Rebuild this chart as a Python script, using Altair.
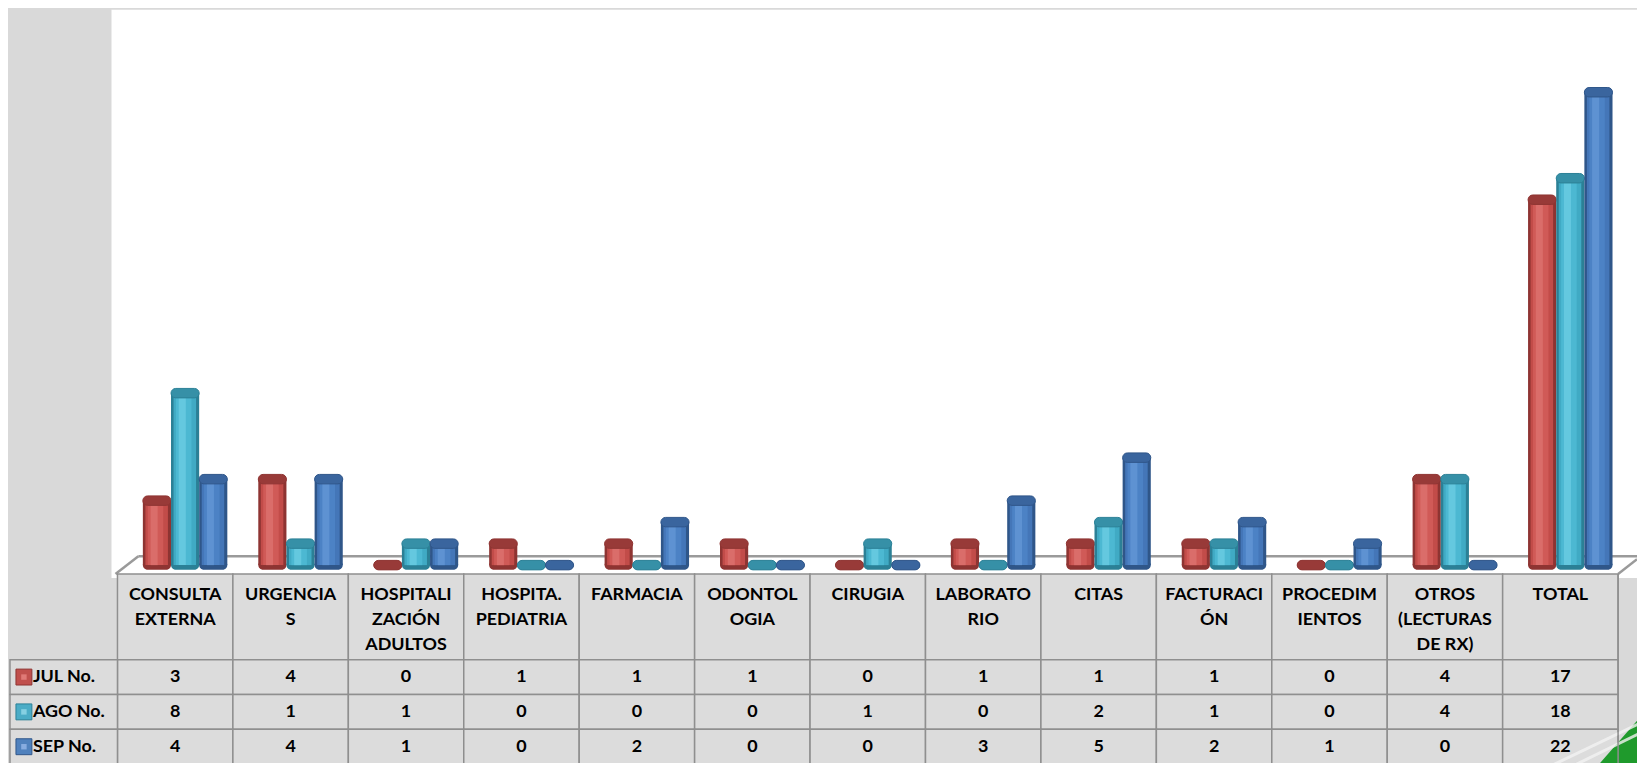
import altair as alt
import pandas as pd

categories = ["CONSULTA EXTERNA", "URGENCIAS", "HOSPITALIZACIÓN ADULTOS", "HOSPITA. PEDIATRIA",
              "FARMACIA", "ODONTOLOGIA", "CIRUGIA", "LABORATORIO", "CITAS", "FACTURACIÓN",
              "PROCEDIMIENTOS", "OTROS (LECTURAS DE RX)", "TOTAL"]
header_labels = ["CONSULTA\nEXTERNA", "URGENCIA\nS", "HOSPITALI\nZACIÓN\nADULTOS", "HOSPITA.\nPEDIATRIA",
                 "FARMACIA", "ODONTOL\nOGIA", "CIRUGIA", "LABORATO\nRIO", "CITAS", "FACTURACI\nÓN",
                 "PROCEDIM\nIENTOS", "OTROS\n(LECTURAS\nDE RX)", "TOTAL"]
series = ["JUL No.", "AGO No.", "SEP No."]
series_keys = ["jul", "ago", "sep"]
jul = [3, 4, 0, 1, 1, 1, 0, 1, 1, 1, 0, 4, 17]
ago = [8, 1, 1, 0, 0, 0, 1, 0, 2, 1, 0, 4, 18]
sep = [4, 4, 1, 0, 2, 0, 0, 3, 5, 2, 1, 0, 22]

values = {"jul": jul, "ago": ago, "sep": sep}

long_rows = []
for k, s in zip(series_keys, series):
    for c, v in zip(categories, values[k]):
        long_rows.append({"cat": c, "series": s, "key": k, "value": v})
df_long = pd.DataFrame(long_rows)

df_wide = pd.DataFrame({"cat": categories, "header": header_labels,
                        "jul": jul, "ago": ago, "sep": sep})
df_series = pd.DataFrame({"series": series, "key": series_keys})

W = 1508
H = 567
FONT = "Lato"
YMIN, YMAX = -0.4167, 25.833
CAP = 0.22  # half cap thickness in value units (~4.7 px)

x_enc = alt.X("cat:N", sort=categories,
              scale=alt.Scale(domain=categories, paddingInner=0, paddingOuter=0), axis=None)
y_scale = alt.Scale(domain=[YMIN, YMAX], nice=False, zero=False)

PO0, A0 = 0.55, 0.82


def xoff(pi=0.0, d=0.0):
    """xOffset band scale whose bands keep the same centres as the base one
    (shifted by d steps) but are narrower by paddingInner pi."""
    po = PO0 + pi / 2
    a = (2 * PO0 * A0 + pi / 2 + d) / (2 * PO0 + pi)
    return alt.XOffset("key:N", sort=series_keys,
                       scale=alt.Scale(domain=series_keys, paddingInner=pi, paddingOuter=po, align=a))


styles = {
    "jul": dict(edge="#8e3432", mid="#c24c49", light="#d05a57", hi="#da6d6a", top="#983a38",
                key="#c0504d", keyin="#e07a77"),
    "ago": dict(edge="#2b8096", mid="#40aac4", light="#4cb8d2", hi="#64c8df", top="#3690a7",
                key="#4bacc6", keyin="#86d0e2"),
    "sep": dict(edge="#2f5689", mid="#4476b8", light="#4c82c5", hi="#5e92d2", top="#3a659e",
                key="#4f81bd", keyin="#87ace0"),
}

layers = []

one_row = alt.Chart(df_series).transform_filter(alt.datum.key == "jul")

# white plot backdrop
layers.append(one_row.mark_rect(fill="white").encode(
    x=alt.value(-6), x2=alt.value(W + 19), y=alt.value(0), y2=alt.value(H + 4)))

# floor outline
layers.append(one_row.mark_rule(color="#9a9a9a", strokeWidth=2.5).encode(
    x=alt.value(21), x2=alt.value(W + 19), y=alt.value(549), y2=alt.value(549)))
layers.append(one_row.mark_rule(color="#9a9a9a", strokeWidth=2.5).encode(
    x=alt.value(-2), x2=alt.value(21), y=alt.value(H), y2=alt.value(549)))
layers.append(one_row.mark_rule(color="#9a9a9a", strokeWidth=2.5).encode(
    x=alt.value(W), x2=alt.value(W + 19), y=alt.value(H), y2=alt.value(552)))

# cylinders
for k in series_keys:
    st = styles[k]
    sub = alt.Chart(df_long).transform_filter(alt.datum.key == k).transform_calculate(
        top_hi=f"datum.value + {CAP}", top_lo=f"datum.value - {CAP}",
        base_hi=f"{CAP}", base_lo=f"-{CAP}")
    # bottom cap
    layers.append(sub.mark_bar(color=st["edge"], cornerRadius=5).encode(
        x=x_enc, xOffset=xoff(),
        y=alt.Y("base_hi:Q", scale=y_scale, axis=None), y2="base_lo:Q"))
    # body shading bands
    for pi, d, col in [(0.0, 0.0, st["edge"]), (0.2, -0.01, st["mid"]),
                       (0.45, -0.05, st["light"]), (0.75, -0.1, st["hi"])]:
        layers.append(sub.mark_bar(color=col).encode(
            x=x_enc, xOffset=xoff(pi, d),
            y=alt.Y("value:Q", scale=y_scale, axis=None), y2=alt.datum(0)))
    # top cap
    layers.append(sub.mark_bar(color=st["top"], cornerRadius=5, stroke=st["edge"], strokeWidth=1).encode(
        x=x_enc, xOffset=xoff(),
        y=alt.Y("top_hi:Q", scale=y_scale, axis=None), y2="top_lo:Q"))

# table
row_bounds = [(H, 653), (653, 688), (688, 723), (723, 758)]
CELL_FILL = "#dcdcdc"
CELL_STROKE = "#8f8f8f"
tab = alt.Chart(df_wide)

for i, (y0, y1) in enumerate(row_bounds):
    layers.append(tab.mark_rect(fill=CELL_FILL, stroke=CELL_STROKE, strokeWidth=1.5).encode(
        x=x_enc, y=alt.value(y0), y2=alt.value(y1)))

# decorative green corner of the slide
layers.append(one_row.mark_rule(color="#1f9a2c", strokeWidth=40).encode(
    x=alt.value(1470), x2=alt.value(1575), y=alt.value(810), y2=alt.value(690)))
layers.append(one_row.mark_rule(color="#f2f2f2", strokeWidth=3, opacity=0.8).encode(
    x=alt.value(1440), x2=alt.value(1540), y=alt.value(760), y2=alt.value(712)))
layers.append(one_row.mark_rule(color="#f2f2f2", strokeWidth=3, opacity=0.8).encode(
    x=alt.value(1450), x2=alt.value(1540), y=alt.value(766), y2=alt.value(722)))
# redraw the right border line of the table over the decoration
layers.append(one_row.mark_rule(color=CELL_STROKE, strokeWidth=1.5).encode(
    x=alt.value(W), x2=alt.value(W), y=alt.value(H), y2=alt.value(760)))

layers.append(tab.mark_text(font=FONT, fontWeight="bold", fontSize=18, lineBreak="\n",
                            lineHeight=25, baseline="top", align="center", color="black").encode(
    x=x_enc, y=alt.value(579), text="header:N"))

for i, k in enumerate(series_keys):
    y0, y1 = row_bounds[i + 1]
    layers.append(tab.mark_text(font=FONT, fontWeight="bold", fontSize=18, baseline="middle",
                                align="center", color="black").encode(
        x=x_enc, y=alt.value((y0 + y1) / 2), text=alt.Text(f"{k}:Q")))

# row labels
lab = alt.Chart(df_series)
for i, k in enumerate(series_keys):
    y0, y1 = row_bounds[i + 1]
    st = styles[k]
    one = lab.transform_filter(alt.datum.key == k)
    layers.append(one.mark_rect(fill=CELL_FILL, stroke=CELL_STROKE, strokeWidth=1.5).encode(
        x=alt.value(-108), x2=alt.value(0), y=alt.value(y0), y2=alt.value(y1)))
    layers.append(one.mark_square(size=256, filled=True, opacity=1, color=st["key"],
                                  stroke=st["edge"], strokeWidth=1).encode(
        x=alt.value(-94), y=alt.value((y0 + y1) / 2)))
    layers.append(one.mark_square(size=30, filled=True, opacity=1, color=st["keyin"]).encode(
        x=alt.value(-94), y=alt.value((y0 + y1) / 2)))
    layers.append(one.mark_text(font=FONT, fontWeight="bold", fontSize=18, baseline="middle",
                                align="left", color="black").encode(
        x=alt.value(-85), y=alt.value((y0 + y1) / 2), text="series:N"))

chart = alt.layer(*layers).resolve_scale(xOffset="independent").properties(
    width=W, height=H,
    autosize=alt.AutoSizeParams(type="none"),
    padding={"left": 110, "top": 0, "right": 19, "bottom": 188},
    background="#d9d9d9",
).configure_view(stroke=None)

chart.save("out.html", embed_options={"renderer": "svg", "actions": False})
